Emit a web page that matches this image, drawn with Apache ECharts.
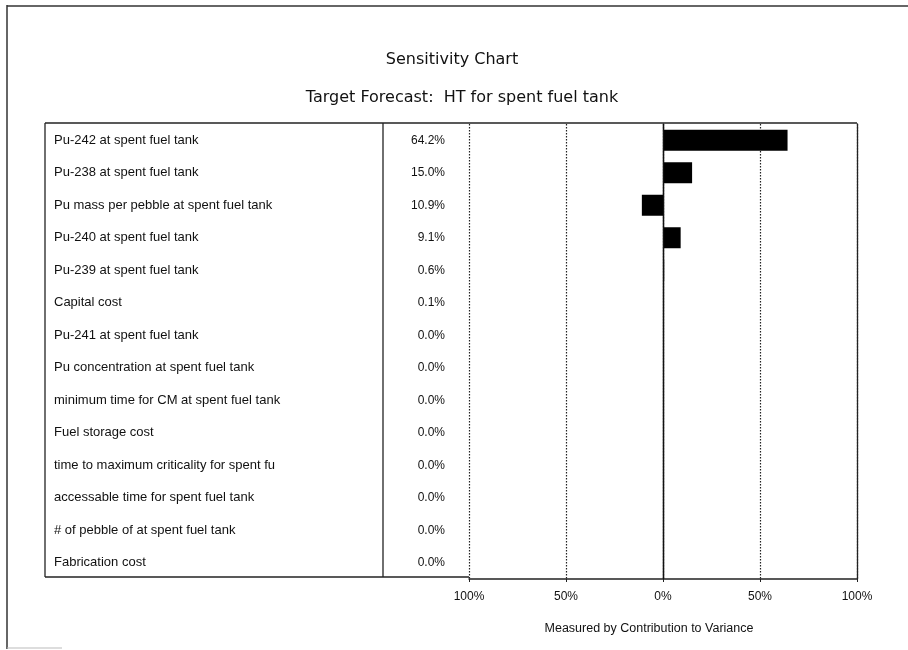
<!DOCTYPE html>
<html>
<head>
<meta charset="utf-8">
<style>
  html, body { margin: 0; padding: 0; background: #fff; }
  #chart { width: 908px; height: 650px; }
</style>
<script src="https://cdn.jsdelivr.net/npm/echarts@6/dist/echarts.min.js"></script>
</head>
<body>
<div id="chart"></div>
<script>
// Assumptions ranked by influence on the forecast
const categories = [
  'Pu-242 at spent fuel tank',
  'Pu-238 at spent fuel tank',
  'Pu mass per pebble at spent fuel tank',
  'Pu-240 at spent fuel tank',
  'Pu-239 at spent fuel tank',
  'Capital cost',
  'Pu-241 at spent fuel tank',
  'Pu concentration at spent fuel tank',
  'minimum time for CM at spent fuel tank',
  'Fuel storage cost',
  'time to maximum criticality for spent fu',
  'accessable time for spent fuel tank',
  '# of pebble of at spent fuel tank',
  'Fabrication cost'
];

// Signed contribution to variance (%)
const contributions = [64.2, 15.0, -10.9, 9.1, 0.6, 0.1, 0.0, 0.0, 0.0, 0.0, 0.0, 0.0, 0.0, 0.0];

// Bottom axis ticks (%)
const axisTicks = [-100, -50, 0, 50, 100];

const valueLabels = contributions.map(v => Math.abs(v).toFixed(1) + '%');

const ink = '#111';
const labelFont = 'Liberation Sans';

const chart = echarts.init(document.getElementById('chart'), null, { renderer: 'canvas' });

const gridL = 469, gridT = 124, gridR = 51, gridB = 71;
const tableLeft = 45, tableRightDivider = 383;

chart.setOption({
  backgroundColor: '#fff',
  animation: false,
  title: [
    {
      text: 'Sensitivity Chart',
      left: 447, top: 47, textAlign: 'center',
      textStyle: { fontFamily: 'DejaVu Sans', fontSize: 16, fontWeight: 'normal', color: ink, letterSpacing: -0.2 }
    },
    {
      text: 'Target Forecast:  HT for spent fuel tank',
      left: 457, top: 85, textAlign: 'center',
      textStyle: { fontFamily: 'DejaVu Sans', fontSize: 16, fontWeight: 'normal', color: ink, letterSpacing: -0.1 }
    }
  ],
  grid: { left: gridL, top: gridT, right: gridR, bottom: gridB, show: false },
  xAxis: {
    type: 'value',
    min: axisTicks[0],
    max: axisTicks[axisTicks.length - 1],
    interval: 50,
    name: 'Measured by Contribution to Variance',
    nameLocation: 'middle',
    nameGap: 43,
    nameTextStyle: {
      fontFamily: labelFont, fontSize: 12.5, color: ink, letterSpacing: -0.1,
      padding: [0, 28, 0, 0]
    },
    axisLine: { show: true, lineStyle: { color: '#222', width: 1.5 } },
    axisTick: { show: true, length: 3, lineStyle: { color: '#222' } },
    axisLabel: {
      margin: 12,
      fontFamily: labelFont, fontSize: 12, color: ink,
      formatter: v => Math.abs(v) + '%'
    },
    splitLine: { show: true, lineStyle: { color: '#222', type: [1.5, 1.5], width: 1.2 } }
  },
  yAxis: [
    {
      // assumption names, left column of the table
      type: 'category',
      data: categories,
      inverse: true,
      position: 'left',
      axisLine: { show: true, lineStyle: { color: '#222', width: 1.3 } },
      axisTick: { show: false },
      axisLabel: {
        align: 'left', margin: gridL - 54,
        fontFamily: labelFont, fontSize: 13, color: ink, letterSpacing: -0.1
      },
      splitLine: { show: false }
    },
    {
      // value column of the table
      type: 'category',
      data: valueLabels,
      inverse: true,
      position: 'left',
      axisLine: { show: false },
      axisTick: { show: false },
      axisLabel: {
        align: 'right', margin: gridL - 445,
        fontFamily: labelFont, fontSize: 12, color: ink
      },
      splitLine: { show: false }
    },
    {
      // right edge of the plot
      type: 'category',
      data: categories,
      inverse: true,
      position: 'right',
      axisLine: { show: true, lineStyle: { color: '#222', width: 1.3 } },
      axisTick: { show: false },
      axisLabel: { show: false }
    }
  ],
  series: [
    {
      type: 'bar',
      data: contributions,
      yAxisIndex: 0,
      barWidth: 21,
      itemStyle: { color: '#000' },
      markLine: {
        silent: true,
        symbol: 'none',
        label: { show: false },
        lineStyle: { color: '#111', type: 'solid', width: 1.3 },
        data: [{ xAxis: 0 }]
      }
    }
  ],
  graphic: [
    // table frame: top and bottom rules, left edge, column divider
    {
      type: 'line', silent: true,
      shape: { x1: tableLeft, y1: gridT - 1, x2: 908 - gridR, y2: gridT - 1 },
      style: { stroke: '#222', lineWidth: 1.3 }
    },
    {
      type: 'line', silent: true,
      shape: { x1: tableLeft, y1: 650 - gridB - 2, x2: gridL, y2: 650 - gridB - 2 },
      style: { stroke: '#222', lineWidth: 1.3 }
    },
    {
      type: 'line', silent: true,
      shape: { x1: tableLeft, y1: gridT - 1, x2: tableLeft, y2: 650 - gridB - 2 },
      style: { stroke: '#222', lineWidth: 1.3 }
    },
    {
      type: 'line', silent: true,
      shape: { x1: tableRightDivider, y1: gridT - 1, x2: tableRightDivider, y2: 650 - gridB - 2 },
      style: { stroke: '#222', lineWidth: 1.3 }
    },
    // page frame
    {
      type: 'line', silent: true,
      shape: { x1: 7, y1: 6, x2: 908, y2: 6 },
      style: { stroke: '#333', lineWidth: 1.5 }
    },
    {
      type: 'line', silent: true,
      shape: { x1: 7, y1: 5, x2: 7, y2: 649 },
      style: { stroke: '#333', lineWidth: 1.5 }
    },
    {
      type: 'line', silent: true,
      shape: { x1: 7, y1: 648, x2: 62, y2: 648 },
      style: { stroke: '#bbb', lineWidth: 1 }
    }
  ]
});
</script>
</body>
</html>
